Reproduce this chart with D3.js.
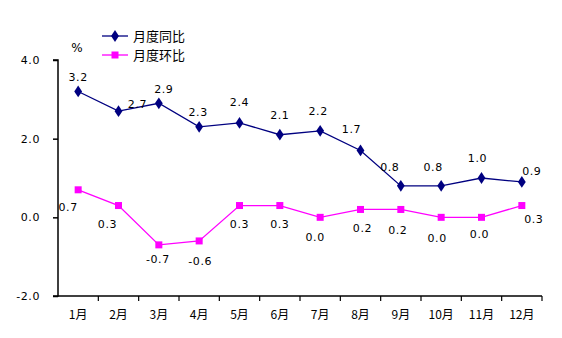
<!DOCTYPE html>
<html><head><meta charset="utf-8">
<script src="https://cdn.jsdelivr.net/npm/d3@7"></script>
<style>
body{margin:0;background:#fff;}
svg text{font-family:"DejaVu Sans","Noto Sans CJK SC",sans-serif;}
</style></head>
<body><svg id="c" width="562" height="338"></svg>
<script>
const months = ["1月","2月","3月","4月","5月","6月","7月","8月","9月","10月","11月","12月"];
const yoy = [3.2,2.7,2.9,2.3,2.4,2.1,2.2,1.7,0.8,0.8,1.0,0.9];
const mom = [0.7,0.3,-0.7,-0.6,0.3,0.3,0.0,0.2,0.2,0.0,0.0,0.3];
const yTicks = [-2,0,2,4];
const seriesNames = ["月度同比","月度环比"];

// label offsets (styling only)
const yoyOff = [[0,-14],[19,-7],[5,-14],[-1,-15],[0,-21],[0,-20],[-2,-20],[-9,-21],[-11,-19],[-8,-19],[-4,-20],[10,-11]];
const momOff = [[-10,17],[-11,18],[-1,14],[1,20],[0,18],[0,18],[-5,20],[2,19],[-3,21],[-4,21],[-2,17],[12,13]];

const fmt = v => d3.format(".1f")(v).replace("\u2212","-");

const svg = d3.select("#c");
const x = d3.scaleBand().domain(months).range([58,542]);
const y = d3.scaleLinear().domain([-2,4]).range([296,60]);

// axes
const yAxis = d3.axisLeft(y).tickValues(yTicks).tickSize(5).tickFormat(fmt);
const gy = svg.append("g").attr("transform","translate(58,0)").call(yAxis);
gy.selectAll("text").attr("x",-18).style("font-size","11px").style("letter-spacing","0.6px").style("fill","#000");
gy.select(".domain").attr("d","M-5,60H0V296H-5").attr("stroke","#000").attr("stroke-width",1.5);
gy.selectAll(".tick line").attr("stroke","#000").attr("stroke-width",1.5);

const gx = svg.append("g").attr("transform","translate(0,296)");
gx.append("line").attr("x1",58).attr("x2",542).attr("stroke","#000").attr("stroke-width",1.5);
months.forEach((m,i)=>{
  const xt = x(m)+x.bandwidth();
  gx.append("line").attr("x1",xt).attr("x2",xt).attr("y1",0).attr("y2",5).attr("stroke","#000").attr("stroke-width",1.2);
  gx.append("text").attr("x",x(m)+x.bandwidth()/2).attr("y",23).attr("text-anchor","middle")
    .style("font-size","12px").style("font-family","'Noto Sans CJK SC',sans-serif").text(m);
});

svg.append("text").attr("x",77).attr("y",52).attr("text-anchor","middle").style("font-size","12px").text("%");

const cx = (i)=>x(months[i])+x.bandwidth()/2;
const line = d3.line().x((d,i)=>cx(i)).y(d=>y(d));

svg.append("path").datum(yoy).attr("d",line).attr("fill","none").attr("stroke","#000080").attr("stroke-width",1.3);
svg.append("path").datum(mom).attr("d",line).attr("fill","none").attr("stroke","#FF00FF").attr("stroke-width",1.3);

const diamond = d3.symbol().type(d3.symbolDiamond).size(40);
yoy.forEach((v,i)=>{
  svg.append("path").attr("d",diamond()).attr("transform",`translate(${cx(i)},${y(v)}) scale(1.15,1)`).attr("fill","#000080");
  svg.append("text").attr("x",cx(i)+yoyOff[i][0]).attr("y",y(v)+yoyOff[i][1]+4).attr("text-anchor","middle")
    .style("font-size","11px").style("letter-spacing","0.6px").text(fmt(v));
});
mom.forEach((v,i)=>{
  svg.append("rect").attr("x",cx(i)-3.5).attr("y",y(v)-3.5).attr("width",7).attr("height",7).attr("fill","#FF00FF");
  svg.append("text").attr("x",cx(i)+momOff[i][0]).attr("y",y(v)+momOff[i][1]+4).attr("text-anchor","middle")
    .style("font-size","11px").style("letter-spacing","0.6px").text(fmt(v));
});

// legend
const lg = svg.append("g");
[["#000080","d"],["#FF00FF","s"]].forEach((c,k)=>{
  const ly = 36 + k*19;
  lg.append("line").attr("x1",102).attr("x2",128).attr("y1",ly).attr("y2",ly).attr("stroke",c[0]).attr("stroke-width",1.3);
  if(c[1]==="d") lg.append("path").attr("d",diamond()).attr("transform",`translate(115,${ly}) scale(1.15,1)`).attr("fill",c[0]);
  else lg.append("rect").attr("x",111.5).attr("y",ly-3.5).attr("width",7).attr("height",7).attr("fill",c[0]);
  lg.append("text").attr("x",133).attr("y",ly+5).style("font-size","13px")
    .style("font-family","'Noto Sans CJK SC',sans-serif").text(seriesNames[k]);
});
</script></body></html>
